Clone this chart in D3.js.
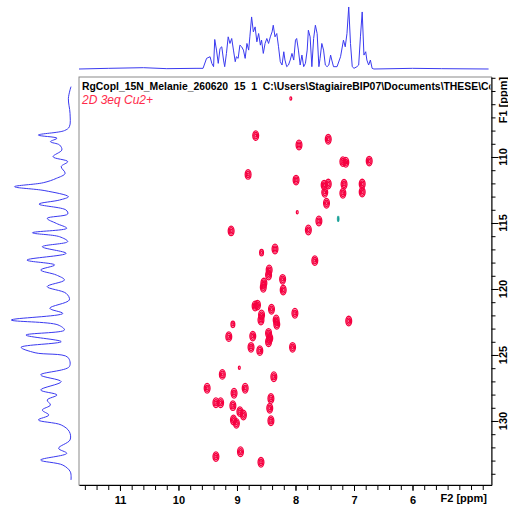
<!DOCTYPE html>
<html>
<head>
<meta charset="utf-8">
<script src="https://cdn.jsdelivr.net/npm/d3@7"></script>
<style>
    body { margin: 0; background: #fff; }
    text { font-family: "Liberation Sans", Arial, sans-serif; }
</style>
</head>
<body>
<div id="chart"></div>
<script>
// cross peaks (F2 = 1H ppm, F1 = 15N ppm), contour levels per peak
var peakF2 = [8.08,8.68,7.44,7.94,7.19,7.14,8.81,7.99,7.51,7.44,7.17,7.50,7.19,7.47,7.97,7.60,7.78,9.10,8.35,8.58,7.67,8.45,8.46,8.54,8.55,8.22,8.21,8.69,8.65,8.58,8.59,8.41,8.01,8.33,8.32,9.07,9.14,8.73,8.46,8.44,8.46,8.76,8.61,8.05,8.96,9.25,8.37,9.51,9.05,8.86,9.36,9.28,9.07,8.42,8.44,8.95,8.89,9.06,9.01,8.42,9.36,8.94,8.59,6.74,6.86,6.86,7.09];
var peakF1 = [105.56,108.38,108.66,109.09,110.35,110.40,111.32,111.75,112.13,112.05,112.07,112.68,112.75,113.51,114.19,114.85,115.53,115.60,116.97,117.25,117.85,118.56,118.94,119.55,119.87,119.27,120.08,121.29,121.22,121.97,122.35,121.54,121.84,122.35,122.68,122.68,123.61,123.57,123.36,123.73,124.00,124.42,124.67,124.42,125.96,126.47,126.65,127.52,127.90,127.52,128.62,128.62,128.84,128.29,129.04,129.29,129.55,129.92,130.18,129.98,132.70,132.33,133.13,110.31,112.05,112.66,122.43];
var peakLevels = [1,3,3,3,3,3,3,3,3,3,3,3,3,3,1,3,3,3,3,2,3,3,3,3,3,3,3,3,3,3,3,3,3,3,3,2,3,3,3,3,3,3,3,3,1,3,3,3,3,3,3,3,3,3,3,3,3,3,3,3,3,3,3,3,3,3,3];

// negative peak (teal)
var negF2 = [7.27];
var negF1 = [114.69];

// 1D projection along F2 (top)
var topF2 = [11.70,11.20,10.60,10.20,9.70,9.58,9.52,9.46,9.43,9.40,9.38,9.35,9.32,9.29,9.26,9.23,9.21,9.18,9.15,9.12,9.09,9.06,9.03,9.01,8.98,8.95,8.92,8.89,8.86,8.83,8.80,8.78,8.75,8.72,8.69,8.66,8.63,8.60,8.58,8.55,8.52,8.49,8.46,8.43,8.40,8.38,8.35,8.32,8.29,8.26,8.23,8.20,8.18,8.15,8.12,8.09,8.06,8.03,8.00,7.98,7.95,7.92,7.89,7.86,7.83,7.80,7.78,7.75,7.72,7.69,7.66,7.63,7.60,7.58,7.55,7.52,7.49,7.46,7.43,7.40,7.38,7.35,7.29,7.23,7.18,7.15,7.12,7.09,7.06,7.03,7.00,6.95,6.92,6.89,6.86,6.83,6.80,6.78,6.75,6.72,6.69,6.66,6.00,5.50,4.70];
var topInt = [0,2,4,1,2,2,32,37,17,7,89,57,17,62,67,27,7,47,97,77,92,57,22,37,32,72,67,57,32,77,57,97,157,112,127,82,107,72,87,47,77,92,77,97,112,132,97,107,67,22,12,52,27,7,12,27,47,27,87,92,57,12,42,7,17,57,117,97,7,92,132,107,7,32,77,57,12,7,12,42,27,7,7,37,87,67,107,187,77,7,2,7,12,97,172,42,52,27,12,27,2,0,2,1,0];

// 1D projection along F1 (left)
var sideF1 = [104.67,105.56,106.69,107.71,108.00,108.34,108.58,108.84,109.09,109.47,109.98,110.35,110.73,111.24,111.62,111.95,112.25,112.55,113.01,113.26,113.57,114.02,114.32,114.65,115.03,115.40,115.74,116.04,116.41,116.80,117.30,117.81,118.18,118.56,118.94,119.32,119.82,120.33,120.83,121.46,121.85,122.35,122.72,123.11,123.49,123.99,124.42,124.83,125.17,125.88,126.51,127.02,127.65,128.03,128.41,128.79,129.17,129.55,129.92,130.30,130.81,131.44,132.07,132.45,132.96,133.34,133.85,134.47];
var sideInt = [0,8,3,5,20,100,43,63,35,28,55,10,30,18,45,85,173,80,8,35,98,15,10,73,45,13,118,35,10,88,15,135,50,93,45,20,73,15,5,65,25,183,40,20,138,30,153,110,10,5,93,30,93,43,73,63,88,68,100,30,5,3,38,13,93,25,2,0];

var f2Ticks = [11, 10, 9, 8, 7, 6];
var f1Ticks = [110, 115, 120, 125, 130];

var titleText = "RgCopl_15N_Melanie_260620  15  1  C:\\Users\\StagiaireBIP07\\Documents\\THESE\\Copl";
var subTitle = "2D 3eq Cu2+";

(function () {

    "use strict";

    var box = {left: 79, right: 491.5, top: 77, bottom: 485},
        peakColor = "#f50040",
        negColor = "#17a096",
        traceColor = "#3a3af0";

    var svg = d3.select("#chart").append("svg")
        .attr("width", 508)
        .attr("height", 509);

    var x = d3.scaleLinear().domain([11.70, 4.65]).range([box.left, box.right]),
        y = d3.scaleLinear().domain([103.94, 134.85]).range([box.top, box.bottom]),
        topY = d3.scaleLinear().domain([0, 190]).range([69, 6]),
        sideX = d3.scaleLinear().domain([0, 190]).range([71, 9]);

    svg.append("clipPath").attr("id", "plotclip")
        .append("rect")
        .attr("x", box.left + 1).attr("y", box.top + 1)
        .attr("width", box.right - box.left - 2)
        .attr("height", box.bottom - box.top - 2);

    /* 1D projections */

    var topLine = d3.line()
        .x(function (d, i) { return x(topF2[i]); })
        .y(function (d, i) { return topY(topInt[i]); });

    svg.append("path")
        .datum(topF2)
        .attr("d", topLine)
        .attr("fill", "none")
        .attr("stroke", traceColor)
        .attr("stroke-width", 1);

    var sideLine = d3.line()
        .curve(d3.curveCatmullRom)
        .x(function (d, i) { return sideX(sideInt[i]); })
        .y(function (d, i) { return y(sideF1[i]); });

    svg.append("path")
        .datum(sideF1)
        .attr("d", sideLine)
        .attr("fill", "none")
        .attr("stroke", traceColor)
        .attr("stroke-width", 1);

    /* frame */

    svg.append("rect")
        .attr("x", box.left).attr("y", box.top)
        .attr("width", box.right - box.left)
        .attr("height", box.bottom - box.top)
        .attr("fill", "none")
        .attr("stroke", "#8a8a8a");

    /* contour peaks */

    var rings = [[2.9, 4.8], [1.9, 3.2], [0.9, 1.6]];
    var peaks = svg.append("g").attr("clip-path", "url(#plotclip)");

    peakF2.forEach(function (f2, i) {
        var n = peakLevels[i];
        rings.slice(3 - n).forEach(function (r) {
            peaks.append("ellipse")
                .attr("cx", x(f2))
                .attr("cy", y(peakF1[i]))
                .attr("rx", r[0])
                .attr("ry", r[1])
                .attr("fill", "none")
                .attr("stroke", peakColor)
                .attr("stroke-width", 1.3);
        });
    });

    negF2.forEach(function (f2, i) {
        peaks.append("ellipse")
            .attr("cx", x(f2))
            .attr("cy", y(negF1[i]))
            .attr("rx", 0.9)
            .attr("ry", 3)
            .attr("fill", negColor)
            .attr("stroke", negColor)
            .attr("stroke-width", 0.8);
    });

    /* titles */

    var labels = svg.append("g").attr("clip-path", "url(#plotclip)");

    labels.append("text")
        .attr("x", 82).attr("y", 90)
        .attr("xml:space", "preserve")
        .style("white-space", "pre")
        .attr("font-size", "10.4px")
        .attr("font-weight", "bold")
        .attr("fill", "#000")
        .text(titleText);

    labels.append("text")
        .attr("x", 82).attr("y", 104)
        .attr("font-size", "12px")
        .attr("font-style", "italic")
        .attr("fill", "#ff2a4a")
        .text(subTitle);

    /* axes */

    var f2Minor = d3.range(48, 117, 2).map(function (v) { return v / 10; }),
        f1Minor = d3.range(104, 135);

    svg.append("g")
        .attr("transform", "translate(0," + box.bottom + ")")
        .call(d3.axisBottom(x).tickValues(f2Minor).tickSize(5).tickSizeOuter(0).tickFormat(""));

    var bottomMajor = svg.append("g")
        .attr("transform", "translate(0," + box.bottom + ")")
        .call(d3.axisBottom(x).tickValues(f2Ticks).tickSize(6).tickPadding(5).tickFormat(d3.format("d")));
    bottomMajor.select(".domain").remove();
    bottomMajor.selectAll("text")
        .attr("font-size", "11px")
        .attr("font-weight", "bold")
        .attr("font-family", "Liberation Sans, Arial, sans-serif")
        .attr("fill", "#000");

    svg.append("text")
        .attr("x", 487).attr("y", 502)
        .attr("text-anchor", "end")
        .attr("font-size", "11px")
        .attr("font-weight", "bold")
        .text("F2 [ppm]");

    svg.append("g")
        .attr("transform", "translate(" + box.right + ",0)")
        .call(d3.axisRight(y).tickValues(f1Minor).tickSize(4).tickSizeOuter(0).tickFormat(""));

    svg.append("g")
        .attr("transform", "translate(" + box.right + ",0)")
        .call(d3.axisRight(y).tickValues(f1Ticks).tickSize(7).tickFormat(""))
        .select(".domain").remove();

    svg.selectAll(".f1label")
        .data(f1Ticks)
        .enter()
        .append("text")
        .attr("class", "f1label")
        .attr("transform", function (d) {
            return "translate(503," + y(d) + ") rotate(-90)";
        })
        .attr("text-anchor", "middle")
        .attr("dy", "0.35em")
        .attr("font-size", "11px")
        .attr("font-weight", "bold")
        .text(function (d) { return d; });

    svg.append("text")
        .attr("transform", "translate(503,100) rotate(-90)")
        .attr("text-anchor", "middle")
        .attr("dy", "0.35em")
        .attr("font-size", "11px")
        .attr("font-weight", "bold")
        .text("F1 [ppm]");

}());
</script>
</body>
</html>
